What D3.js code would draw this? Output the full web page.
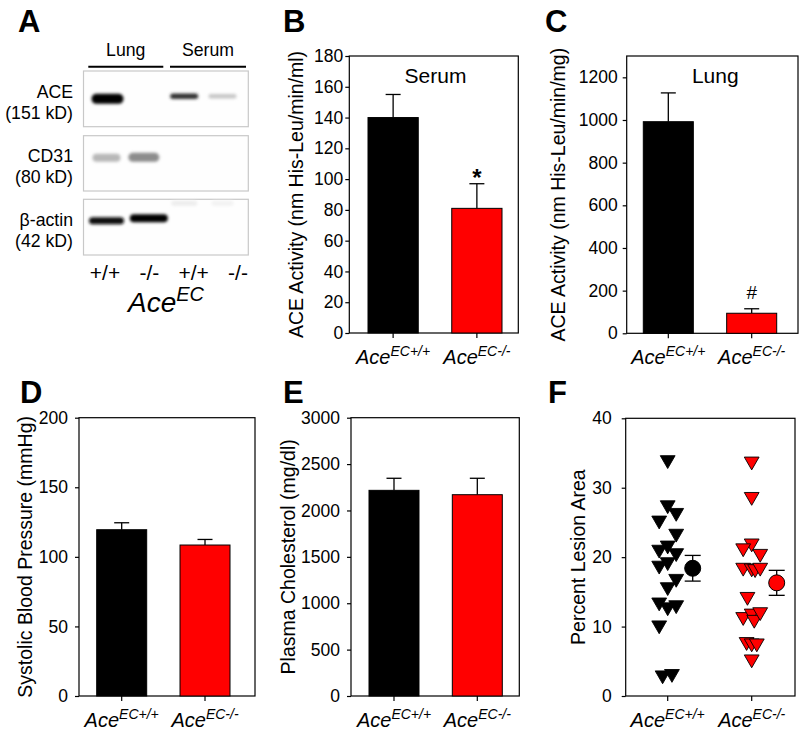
<!DOCTYPE html>
<html><head><meta charset="utf-8">
<script src="https://cdn.jsdelivr.net/npm/d3@7"></script>
<style>
html,body{margin:0;padding:0;background:#fff;}
svg{display:block;font-family:Arial,"Liberation Sans",Helvetica,sans-serif;}
</style></head><body>
<svg id="fig" width="800" height="734"></svg>
<script>
// ================= DATA =================
const genotypes = ["EC+/+", "EC-/-"];          // superscripts of "Ace"
const barColors = ["#000000", "#ff0000"];

const serumACE = [140, 81];
const serumACEErr = [15, 16];
const lungACE = [992, 94];
const lungACEErr = [135, 21];
const sbp = [119.5, 108.5];
const sbpErr = [5, 4];
const chol = [2217, 2170];
const cholErr = [130, 177];

const serumTicks = [0, 20, 40, 60, 80, 100, 120, 140, 160, 180];
const lungTicks = [0, 200, 400, 600, 800, 1000, 1200];
const sbpTicks = [0, 50, 100, 150, 200];
const cholTicks = [0, 500, 1000, 1500, 2000, 2500, 3000];
const lesionTicks = [0, 10, 20, 30, 40];

const lesionWT = [34.0, 27.5, 26.4, 25.3, 23.4, 21.7, 21.1, 20.6, 18.8, 19.3, 16.9, 15.7, 13.5, 12.8, 13.1, 10.2, 3.0, 3.2];
const lesionWTJitter = [0, 0, 1, -1, 1, 0, -1, 1, -1, 0, 1, 0, -1, 0, 1, -1, -0.6, 0.5];
const lesionKO = [33.8, 28.7, 22.0, 21.3, 20.5, 18.5, 18.4, 18.3, 18.5, 14.3, 11.4, 11.9, 11.0, 12.1, 7.8, 7.6, 7.6, 5.3];
const lesionKOJitter = [0, 0, 0, -1, 1, -1, 0, 0.4, 1, -0.5, -1, 0, 0.3, 1, -0.6, 0, 0.6, 0];
const lesionMean = [18.4, 16.3];
const lesionSem = [1.85, 1.8];

// western blot
const tissues = ["Lung", "Serum"];
const blotRows = ["ACE", "CD31", "β-actin"];
const blotSizes = ["(151 kD)", "(80 kD)", "(42 kD)"];
const laneLabels = ["+/+", "-/-", "+/+", "-/-"];
const aceBands = [1.0, 0.0, 0.8, 0.22];
const cd31Bands = [0.28, 0.45, 0, 0];
const actinBands = [0.95, 1.0, 0.07, 0.05];

// ================= LAYOUT =================
const svg = d3.select("#fig");
const FONT_TICK = 17.5, FONT_LAB = 19.5;

const defs = svg.append("defs");
defs.append("filter").attr("id", "blur").attr("x", "-50%").attr("y", "-150%")
  .attr("width", "200%").attr("height", "400%")
  .append("feGaussianBlur").attr("stdDeviation", 1.8);

function panelLetter(t, x, y) {
  svg.append("text").attr("x", x).attr("y", y).text(t)
    .attr("font-size", 31).attr("font-weight", "bold").attr("fill", "#000");
}

function genoLabel(g, x, y) {
  return g.append("text").attr("x", x).attr("y", y).attr("text-anchor", "middle")
    .attr("font-style", "italic").attr("fill", "#000");
}

function frameAndAxes(cfg, y) {
  const g = svg.append("g");
  const f = cfg.frame;
  g.append("rect").attr("x", f.x0).attr("y", f.y0).attr("width", f.x1 - f.x0)
    .attr("height", f.y1 - f.y0).attr("fill", "none").attr("stroke", "#000").attr("stroke-width", 1.2);
  const ax = g.append("g").attr("transform", `translate(${f.x0},0)`)
    .call(d3.axisLeft(y).tickValues(cfg.ticks).tickSize(4).tickPadding(cfg.tickPad).tickFormat(d3.format("d")));
  ax.select(".domain").remove();
  ax.selectAll("line").attr("stroke", "#000").attr("stroke-width", 1.2);
  ax.selectAll("text").attr("font-size", FONT_TICK).attr("fill", "#000")
    .attr("font-family", "Arial, 'Liberation Sans', sans-serif");
  g.append("text").attr("transform", `translate(${cfg.labelX},${(f.y0 + f.y1) / 2}) rotate(-90)`)
    .attr("text-anchor", "middle").attr("font-size", FONT_LAB).attr("fill", "#000").text(cfg.ylabel);
  return g;
}

function xCategoryLabels(g, xs, yBase) {
  genotypes.forEach((gn, i) => {
    g.append("line").attr("x1", xs[i]).attr("x2", xs[i]).attr("y1", yBase).attr("y2", yBase + 5)
      .attr("stroke", "#000").attr("stroke-width", 1.2);
    const t = genoLabel(g, xs[i], yBase + 31);
    t.append("tspan").attr("font-size", 20).text("Ace");
    t.append("tspan").attr("font-size", 14).attr("dy", -8).text(gn);
  });
}

function barPanel(cfg) {
  const f = cfg.frame;
  const y = d3.scaleLinear().domain(cfg.domain).range([f.y1, f.y0]);
  const x = d3.scaleBand().domain(genotypes).range(cfg.barRange).paddingInner(0.4).paddingOuter(0);
  const g = frameAndAxes(cfg, y);
  const capW = 15;
  genotypes.forEach((gn, i) => {
    const v = cfg.values[i], e = cfg.errs[i];
    const cx = x(gn) + x.bandwidth() / 2;
    g.append("line").attr("x1", cx).attr("x2", cx).attr("y1", y(v)).attr("y2", y(v + e))
      .attr("stroke", "#000").attr("stroke-width", 1.3);
    g.append("line").attr("x1", cx - capW / 2).attr("x2", cx + capW / 2).attr("y1", y(v + e)).attr("y2", y(v + e))
      .attr("stroke", "#000").attr("stroke-width", 1.3);
    g.append("rect").attr("x", x(gn)).attr("y", y(v)).attr("width", x.bandwidth())
      .attr("height", y(0) - y(v)).attr("fill", barColors[i]).attr("stroke", "#000").attr("stroke-width", 1);
    if (cfg.marks && cfg.marks[i]) {
      g.append("text").attr("x", cx).attr("y", y(v + e) + cfg.markDy).attr("text-anchor", "middle")
        .attr("font-size", cfg.markSize || 22).attr("font-weight", cfg.markBold ? "bold" : "normal")
        .attr("fill", "#000").text(cfg.marks[i]);
    }
  });
  xCategoryLabels(g, genotypes.map(gn => x(gn) + x.bandwidth() / 2), f.y1);
  if (cfg.title) {
    g.append("text").attr("x", cfg.titleX).attr("y", f.y0 + 27).attr("text-anchor", "middle")
      .attr("font-size", 21).attr("fill", "#000").text(cfg.title);
  }
}

// ---------- Panel A: western blot ----------
(function () {
  const g = svg.append("g");
  const boxX0 = 83.5, boxX1 = 248.3;
  const rowBox = [[71, 126.7], [135.7, 191], [199.3, 255]];
  const bandX = d3.scalePoint().domain(d3.range(4)).range([107.5, 222.5]);
  const labelX = d3.scalePoint().domain(d3.range(4)).range([105, 238]);
  const bandDy = [[0, 0, -2.5, -2.5], [-5.5, -6, 0, 0], [-6.5, -9, -24, -24]];
  const bandDx = [[0, 0, 0, 0], [-1, -2, 0, 0], [-1, 3, 0, 0]];
  const bandW = [[32, 30, 28, 28], [28, 31, 0, 0], [35, 38, 26, 22]];
  const bandH = [[10, 8, 5.5, 4.5], [8, 9, 0, 0], [7, 8, 5, 5]];
  const bands = [aceBands, cd31Bands, actinBands];
  const grey = d3.interpolateRgb("#ffffff", "#000000");

  const tissueX = [[88.3, 163.3], [170, 246]];
  tissues.forEach((t, i) => {
    g.append("text").attr("x", (tissueX[i][0] + tissueX[i][1]) / 2).attr("y", 56)
      .attr("text-anchor", "middle").attr("font-size", 17.7).text(t);
    g.append("line").attr("x1", tissueX[i][0]).attr("x2", tissueX[i][1]).attr("y1", 66.7).attr("y2", 66.7)
      .attr("stroke", "#000").attr("stroke-width", 2);
  });

  blotRows.forEach((r, ri) => {
    const [y0, y1] = rowBox[ri];
    const cy = (y0 + y1) / 2;
    g.append("rect").attr("x", boxX0).attr("y", y0).attr("width", boxX1 - boxX0).attr("height", y1 - y0)
      .attr("fill", "#fefefe").attr("stroke", "#c8c8c8").attr("stroke-width", 1.2);
    bands[ri].forEach((v, li) => {
      if (v <= 0) return;
      const w = bandW[ri][li], h = bandH[ri][li];
      g.append("rect").attr("x", bandX(li) + bandDx[ri][li] - w / 2).attr("y", cy + bandDy[ri][li] - h / 2)
        .attr("width", w).attr("height", h).attr("rx", h / 2)
        .attr("fill", grey(v)).attr("filter", "url(#blur)");
    });
    g.append("text").attr("x", 73).attr("y", cy - 1).attr("text-anchor", "end").attr("font-size", 17.7).text(r);
    g.append("text").attr("x", 73).attr("y", cy + 20).attr("text-anchor", "end").attr("font-size", 17.7).text(blotSizes[ri]);
  });

  laneLabels.forEach((l, i) => {
    g.append("text").attr("x", labelX(i)).attr("y", 280).attr("text-anchor", "middle")
      .attr("font-size", 21).text(l);
  });
  const t = genoLabel(g, 166, 312);
  t.append("tspan").attr("font-size", 28).text("Ace");
  t.append("tspan").attr("font-size", 20).attr("dy", -11).text("EC");
})();

// ---------- Panel B ----------
barPanel({
  frame: { x0: 349.3, x1: 518.3, y0: 56, y1: 333 }, barRange: [368, 502],
  domain: [0, 180], ticks: serumTicks, tickPad: 2, values: serumACE, errs: serumACEErr,
  ylabel: "ACE Activity (nm His-Leu/min/ml)", labelX: 303, title: "Serum", titleX: 435.5,
  marks: ["", "*"], markSize: 24, markBold: true, markDy: 2
});

// ---------- Panel C ----------
barPanel({
  frame: { x0: 626.7, x1: 798, y0: 56, y1: 333.3 }, barRange: [643.3, 776.7],
  domain: [0, 1300], ticks: lungTicks, tickPad: 5, values: lungACE, errs: lungACEErr,
  ylabel: "ACE Activity (nm His-Leu/min/mg)", labelX: 565, title: "Lung", titleX: 715.3,
  marks: ["", "#"], markSize: 19, markDy: -10
});

// ---------- Panel D ----------
barPanel({
  frame: { x0: 79, x1: 255, y0: 417.7, y1: 696 }, barRange: [96.7, 230],
  domain: [0, 200], ticks: sbpTicks, tickPad: 7, values: sbp, errs: sbpErr,
  ylabel: "Systolic Blood Pressure (mmHg)", labelX: 32
});

// ---------- Panel E ----------
barPanel({
  frame: { x0: 351, x1: 519.3, y0: 417.7, y1: 696 }, barRange: [369, 502.3],
  domain: [0, 3000], ticks: cholTicks, tickPad: 7, values: chol, errs: cholErr,
  ylabel: "Plasma Cholesterol (mg/dl)", labelX: 295
});

// ---------- Panel F ----------
(function () {
  const cfg = {
    frame: { x0: 625.7, x1: 795, y0: 418.3, y1: 696 }, domain: [0, 40], ticks: lesionTicks,
    tickPad: 10, ylabel: "Percent Lesion Area", labelX: 585
  };
  const f = cfg.frame;
  const y = d3.scaleLinear().domain(cfg.domain).range([f.y1, f.y0]);
  const x = d3.scalePoint().domain(genotypes).range([667.7, 751.7]);
  const g = frameAndAxes(cfg, y);
  const jitterStep = 8.5, meanOffset = 25;
  const tri = d3.symbol().type(d3.symbolTriangle).size(95)();
  const sets = [[lesionWT, lesionWTJitter], [lesionKO, lesionKOJitter]];
  sets.forEach(([vals, jit], i) => {
    const cx = x(genotypes[i]);
    g.selectAll(null).data(vals).enter().append("path").attr("d", tri)
      .attr("transform", (d, k) => `translate(${cx + jit[k] * jitterStep},${y(d)}) rotate(180)`)
      .attr("fill", barColors[i]).attr("stroke", "#000").attr("stroke-width", 0.9);
    const mx = cx + meanOffset, m = lesionMean[i], s = lesionSem[i];
    g.append("line").attr("x1", mx).attr("x2", mx).attr("y1", y(m - s)).attr("y2", y(m + s))
      .attr("stroke", "#000").attr("stroke-width", 1.3);
    [m - s, m + s].forEach(v => g.append("line").attr("x1", mx - 8).attr("x2", mx + 8)
      .attr("y1", y(v)).attr("y2", y(v)).attr("stroke", "#000").attr("stroke-width", 1.3));
    g.append("circle").attr("cx", mx).attr("cy", y(m)).attr("r", 8)
      .attr("fill", barColors[i]).attr("stroke", "#000").attr("stroke-width", 1);
  });
  xCategoryLabels(g, genotypes.map(gn => x(gn)), f.y1);
})();

panelLetter("A", 18, 32);
panelLetter("B", 283, 32);
panelLetter("C", 545, 32);
panelLetter("D", 20, 403);
panelLetter("E", 283, 403);
panelLetter("F", 548, 403);
</script>
</body></html>
